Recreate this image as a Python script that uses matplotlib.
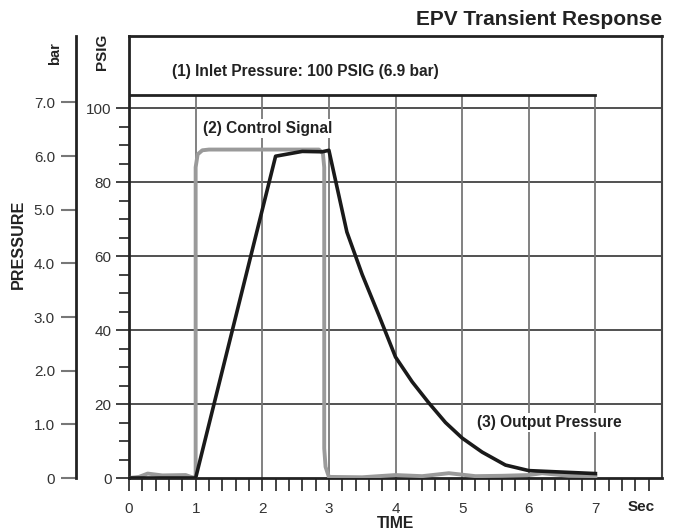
import matplotlib
matplotlib.use('Agg')
import matplotlib.pyplot as plt
from matplotlib.ticker import FixedLocator, FixedFormatter

plt.rcParams['font.family'] = ['Liberation Sans', 'DejaVu Sans']

# output pressure (PSIG) vs time (sec)
out_t = [0, 1.0, 2.2, 2.6, 2.9, 3.0, 3.27, 3.5, 3.75, 4.0, 4.25, 4.5, 4.75, 5.0, 5.3, 5.65, 6.0, 6.5, 7.0]
out_p = [0, 0, 87, 88.3, 88.2, 88.6, 66.5, 55, 44, 32.7, 26, 20.3, 15, 10.8, 7, 3.5, 2.0, 1.6, 1.2]

# control signal (PSIG)
sig_t = [0, 0.15, 0.28, 0.5, 0.85, 0.93, 1.0, 1.0, 1.03, 1.1, 1.2, 2.85, 2.91, 2.93, 2.93, 2.95, 3.0, 3.5,
         4.0, 4.4, 4.8, 5.2, 5.6, 6.0, 6.2, 6.6, 7.0]
sig_p = [0, 0.3, 1.2, 0.7, 0.8, 0.3, 0, 84, 87.5, 88.6, 88.8, 88.8, 87.8, 84, 8, 3, 0.3, 0.2,
         0.8, 0.5, 1.3, 0.5, 0.6, 0.8, 1.3, 0.6, 0.5]

inlet_psig = 103.5
x_labels = ['0', '1', '2', '3', '4', '5', '6', '7']
psig_ticks = [0, 20, 40, 60, 80, 100]
bar_ticks = [0, 1, 2, 3, 4, 5, 6, 7]
bar_labels = ['0', '1.0', '2.0', '3.0', '4.0', '5.0', '6.0', '7.0']

PSI_PER_BAR = 14.5038
dark = '#222222'

fig = plt.figure(figsize=(6.73, 5.31), dpi=100)
ax = fig.add_axes([0.1917, 0.0998, 0.792, 0.8324])
ax.set_xlim(0, 8)
ax.set_ylim(0, 119.5)

# grid
for p in psig_ticks[1:]:
    ax.axhline(p, color=dark, lw=1.1, zorder=1)
ax.vlines(range(1, 8), 0, inlet_psig, color='#777777', lw=1.3, zorder=1)
ax.plot([0, 7], [inlet_psig, inlet_psig], color=dark, lw=2, zorder=2)

ax.plot(sig_t, sig_p, color='#9a9a9a', lw=2.8, zorder=3, solid_joinstyle='round')
ax.plot(out_t, out_p, color='#1a1a1a', lw=2.6, zorder=4)

for s in ['left', 'bottom', 'top']:
    ax.spines[s].set_linewidth(2)
    ax.spines[s].set_color(dark)
ax.spines['right'].set_linewidth(1.5)
ax.spines['right'].set_color('#444444')

# x axis
ax.xaxis.set_major_locator(FixedLocator(range(8)))
ax.xaxis.set_major_formatter(FixedFormatter(x_labels))
ax.xaxis.set_minor_locator(FixedLocator([i * 0.2 for i in range(40)]))
ax.tick_params(axis='x', which='both', direction='out', length=9, width=1.2, color=dark,
               labelsize=11, labelcolor='#333333', pad=8)

# PSIG axis
ax.yaxis.set_major_locator(FixedLocator(psig_ticks))
ax.yaxis.set_minor_locator(FixedLocator([5 * i for i in range(1, 20) if i % 4]))
ax.tick_params(axis='y', which='major', direction='out', length=9.5, width=1.2, color=dark,
               labelsize=11, labelcolor='#333333', pad=3)
ax.tick_params(axis='y', which='minor', direction='out', length=7, width=1.2, color=dark)

# bar axis
bax = ax.secondary_yaxis(-0.1, functions=(lambda p: p / PSI_PER_BAR, lambda b: b * PSI_PER_BAR))
bax.yaxis.set_major_locator(FixedLocator(bar_ticks))
bax.yaxis.set_major_formatter(FixedFormatter(bar_labels))
bax.yaxis.set_minor_locator(FixedLocator([]))
bax.spines['left'].set_linewidth(2)
bax.spines['left'].set_color(dark)
bax.tick_params(axis='y', direction='out', length=11, width=1.5, color='#777777',
                labelsize=11, labelcolor='#333333', pad=4)

bold = dict(fontweight='bold', color='#222222')
ax.text(-0.051, 0.965, 'PSIG', transform=ax.transAxes, rotation=90, ha='center', va='center', fontsize=11, **bold)
ax.text(-0.139, 0.96, 'bar', transform=ax.transAxes, rotation=90, ha='center', va='center', fontsize=10.5, **bold)
ax.text(-0.208, 0.528, 'PRESSURE', transform=ax.transAxes, rotation=90, ha='center', va='center', fontsize=11.6, **bold)
ax.annotate('Sec', xy=(7.69, -0.066), xycoords=('data', 'axes fraction'), ha='center', va='center', fontsize=11, **bold)
ax.annotate('TIME', xy=(4.0, -0.102), xycoords=('data', 'axes fraction'), ha='center', va='center', fontsize=11.3, **bold)

ax.text(0.645, 110, '(1) Inlet Pressure: 100 PSIG (6.9 bar)', ha='left', va='center', fontsize=11.2, zorder=5, **bold)
ax.text(1.11, 94.6, '(2) Control Signal', ha='left', va='center', fontsize=11.2, zorder=5,
        bbox=dict(facecolor='white', edgecolor='none', pad=1.5), **bold)
ax.text(5.22, 14.9, '(3) Output Pressure', ha='left', va='center', fontsize=11.2, zorder=5,
        bbox=dict(facecolor='white', edgecolor='none', pad=1.5), **bold)

fig.text(0.9837, 0.964, 'EPV Transient Response', ha='right', va='center', fontsize=15, **bold)

fig.savefig('out.png', dpi=100)
